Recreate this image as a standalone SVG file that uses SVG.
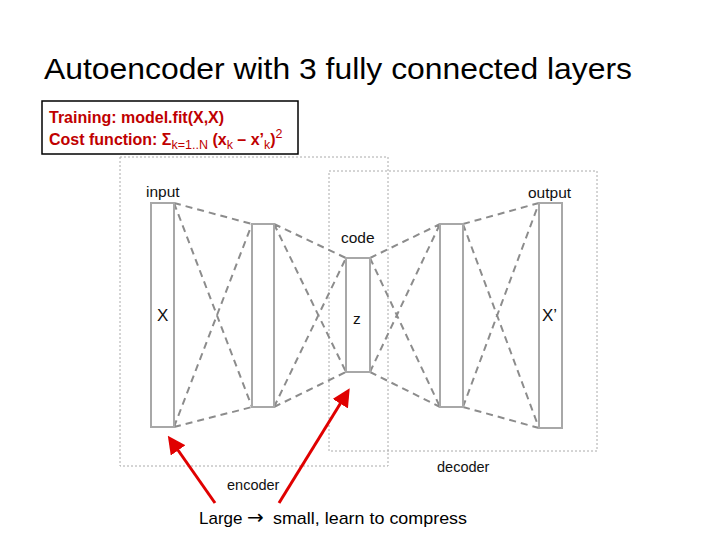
<svg xmlns="http://www.w3.org/2000/svg" width="720" height="540" viewBox="0 0 720 540">
<style>
.frame{fill:none;stroke:#aaa;stroke-width:1;stroke-dasharray:2,2}
.layer{fill:#fff;stroke:#a8a8a8;stroke-width:2}
.conn{stroke:#8c8c8c;stroke-width:2;stroke-dasharray:7,5;fill:none}
.lbl{font-family:"Liberation Sans",Arial,sans-serif;font-size:15.5px;fill:#111}
.sub{font-family:"Liberation Sans",Arial,sans-serif;font-size:14.5px;fill:#111}
.big{font-family:"Liberation Sans",Arial,sans-serif;font-size:17px;fill:#111}
.red{font-family:"Liberation Sans",Arial,sans-serif;font-size:16px;font-weight:bold;fill:#c00000}
.arrow{stroke:#e00000;stroke-width:3;fill:none}
</style>
<defs>
<marker id="ah" markerWidth="6" markerHeight="6" refX="3" refY="3" orient="auto" markerUnits="strokeWidth">
<path d="M0,0 L6,3 L0,6 Z" fill="#e00000"/>
</marker>
</defs>
<rect width="720" height="540" fill="#fff"/>
<text x="44" y="79" font-family="Liberation Sans,Arial,sans-serif" font-size="30" fill="#000" textLength="588" lengthAdjust="spacingAndGlyphs">Autoencoder with 3 fully connected layers</text>
<g id="cost-box">
<rect x="42" y="101" width="256" height="53" fill="#fff" stroke="#000" stroke-width="1.5"/>
<text class="red" x="49" y="123">Training: model.fit(X,X)</text>
<text class="red" x="49" y="145">Cost function: Σ<tspan font-size="12.5" font-weight="normal" dy="4">k=1..N</tspan><tspan dy="-4"> (x</tspan><tspan font-size="12.5" font-weight="normal" dy="4">k</tspan><tspan dy="-4"> – x’</tspan><tspan font-size="12.5" font-weight="normal" dy="4">k</tspan><tspan dy="-4">)</tspan><tspan font-size="12.5" font-weight="normal" dy="-7">2</tspan></text>
</g>
<g id="encoder">
<rect class="frame" x="120" y="157" width="268" height="309"/>
<text class="sub" x="227" y="490">encoder</text>
</g>
<g id="decoder">
<rect class="frame" x="329" y="171" width="268" height="280"/>
<text class="sub" x="437" y="472">decoder</text>
</g>
<g id="connectors">
<path class="conn" d="M174,203 L252,224 M174,427 L252,407 M174,203 L252,407 M174,427 L252,224"/>
<path class="conn" d="M274,224 L346,258 M274,407 L346,372 M274,224 L346,372 M274,407 L346,258"/>
<path class="conn" d="M370,258 L440,224 M370,372 L440,407 M370,258 L440,407 M370,372 L440,224"/>
<path class="conn" d="M463,224 L539,203 M463,407 L539,428 M463,224 L539,428 M463,407 L539,203"/>
</g>
<g id="input">
<rect class="layer" x="151" y="203" width="23" height="224"/>
<text class="lbl" x="146" y="197">input</text>
<text class="big" x="157" y="321">X</text>
</g>
<g id="hidden1">
<rect class="layer" x="252" y="224" width="22" height="183"/>
</g>
<g id="code">
<rect class="layer" x="346" y="258" width="24" height="114"/>
<text class="lbl" x="341" y="243">code</text>
<text class="lbl" x="353" y="324">z</text>
</g>
<g id="hidden2">
<rect class="layer" x="440" y="224" width="23" height="183"/>
</g>
<g id="output">
<rect class="layer" x="539" y="203" width="23" height="225"/>
<text class="lbl" x="528" y="198">output</text>
<text class="big" x="542" y="321">X’</text>
</g>
<g id="red-arrows">
<line class="arrow" x1="215" y1="503" x2="173" y2="443" marker-end="url(#ah)"/>
<line class="arrow" x1="279" y1="503" x2="345" y2="396" marker-end="url(#ah)"/>
</g>
<text x="199" y="524" font-family="Liberation Sans,Arial,sans-serif" font-size="17" fill="#000">Large <tspan x="247" font-family="DejaVu Sans,sans-serif" font-size="20">→</tspan><tspan x="273" textLength="194" lengthAdjust="spacingAndGlyphs">small, learn to compress</tspan></text>
</svg>
